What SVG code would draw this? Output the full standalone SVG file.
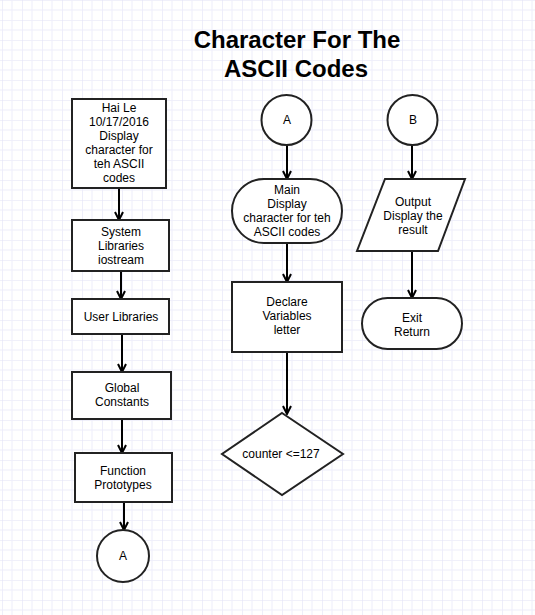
<svg xmlns="http://www.w3.org/2000/svg" width="535" height="615" viewBox="0 0 535 615">
<defs>
<pattern id="grid" x="2" y="0" width="20" height="20" patternUnits="userSpaceOnUse">
<path d="M0,0 V20 M0,0 H20" stroke="#e2e2f6" stroke-width="1.2" fill="none"/>
<path d="M10,0 V20 M0,10 H20" stroke="#ededfa" stroke-width="1" fill="none"/>
</pattern>
<marker id="arr" viewBox="0 0 10 10" refX="9" refY="5" markerWidth="10" markerHeight="10" markerUnits="userSpaceOnUse" orient="auto">
<path d="M1,1 L9,5 L1,9" fill="none" stroke="#000" stroke-width="2"/>
</marker>
</defs>
<style>
.s{fill:#fff;stroke:#222;stroke-width:2}
.t{font-family:"Liberation Sans",Arial,sans-serif;font-size:12px;fill:#000;text-anchor:middle}
.title{font-family:"Liberation Sans",Arial,sans-serif;font-size:24px;font-weight:bold;fill:#000;text-anchor:middle}
.c{stroke:#000;stroke-width:2;fill:none;marker-end:url(#arr)}
</style>
<rect width="535" height="615" fill="#fff"/>
<rect width="535" height="615" fill="url(#grid)"/>
<g id="title">
<text class="title" x="297" y="48">Character For The</text>
<text class="title" x="296" y="77">ASCII Codes</text>
</g>
<g id="connectors">
<line class="c" x1="119" y1="188" x2="119" y2="220"/>
<line class="c" x1="121" y1="271" x2="121" y2="299"/>
<line class="c" x1="122" y1="334" x2="122" y2="372"/>
<line class="c" x1="122" y1="419" x2="122" y2="453"/>
<line class="c" x1="124" y1="502" x2="124" y2="530"/>
<line class="c" x1="287" y1="145" x2="287" y2="179"/>
<line class="c" x1="287" y1="243" x2="287" y2="282"/>
<line class="c" x1="287" y1="352" x2="287" y2="414"/>
<line class="c" x1="412" y1="145" x2="412" y2="179"/>
<line class="c" x1="412" y1="251" x2="412" y2="298"/>
</g>
<g id="n1">
<rect class="s" x="72" y="99" width="94" height="89"/>
<text class="t" x="119" y="112">Hai Le</text>
<text class="t" x="119" y="126">10/17/2016</text>
<text class="t" x="119" y="140">Display</text>
<text class="t" x="119" y="154">character for</text>
<text class="t" x="119" y="168">teh ASCII</text>
<text class="t" x="119" y="182">codes</text>
</g>
<g id="n2">
<rect class="s" x="72" y="220" width="97" height="51"/>
<text class="t" x="121" y="236">System</text>
<text class="t" x="121" y="250">Libraries</text>
<text class="t" x="121" y="264">iostream</text>
</g>
<g id="n3">
<rect class="s" x="72" y="299" width="97" height="35"/>
<text class="t" x="121" y="321">User Libraries</text>
</g>
<g id="n4">
<rect class="s" x="72" y="372" width="99" height="47"/>
<text class="t" x="122" y="392">Global</text>
<text class="t" x="122" y="406">Constants</text>
</g>
<g id="n5">
<rect class="s" x="75" y="453" width="97" height="49"/>
<text class="t" x="123" y="475">Function</text>
<text class="t" x="123" y="489">Prototypes</text>
</g>
<g id="n6">
<circle class="s" cx="123" cy="556" r="26"/>
<text class="t" x="123" y="560">A</text>
</g>
<g id="n7">
<circle class="s" cx="286.5" cy="120" r="25"/>
<text class="t" x="287" y="124">A</text>
</g>
<g id="n8">
<rect class="s" x="232" y="179" width="110" height="64" rx="32" ry="32"/>
<text class="t" x="287" y="194">Main</text>
<text class="t" x="287" y="208">Display</text>
<text class="t" x="287" y="222">character for teh</text>
<text class="t" x="287" y="236">ASCII codes</text>
</g>
<g id="n9">
<rect class="s" x="232" y="282" width="110" height="70"/>
<text class="t" x="287" y="306">Declare</text>
<text class="t" x="287" y="320">Variables</text>
<text class="t" x="287" y="334">letter</text>
</g>
<g id="n10">
<polygon class="s" points="282,413 343,454 282,495 222,454"/>
<text class="t" x="281" y="458">counter &lt;=127</text>
</g>
<g id="n11">
<circle class="s" cx="412.5" cy="120" r="25"/>
<text class="t" x="413" y="124">B</text>
</g>
<g id="n12">
<polygon class="s" points="385,179 465,179 438,251 357,251"/>
<text class="t" x="413" y="206">Output</text>
<text class="t" x="413" y="220">Display the</text>
<text class="t" x="413" y="234">result</text>
</g>
<g id="n13">
<rect class="s" x="362" y="298" width="100" height="51" rx="25.5" ry="25.5"/>
<text class="t" x="412" y="322">Exit</text>
<text class="t" x="412" y="336">Return</text>
</g>
</svg>
